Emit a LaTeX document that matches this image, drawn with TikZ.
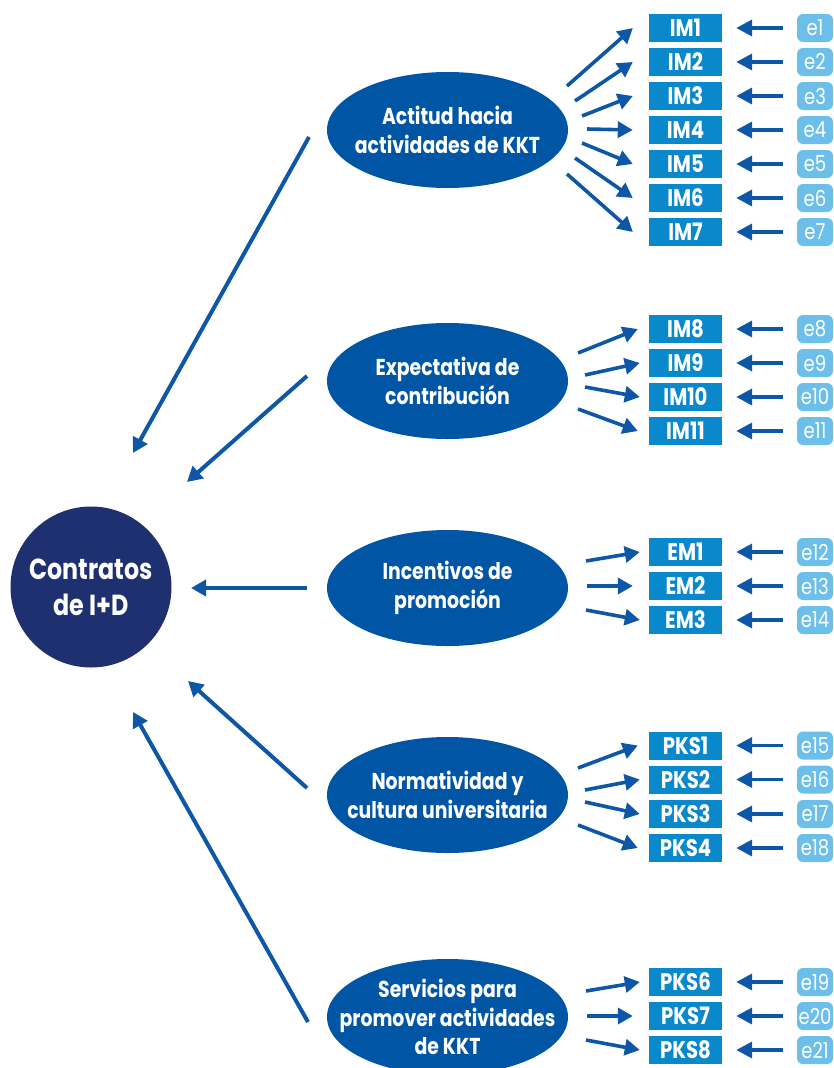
\documentclass[tikz,border=0pt]{standalone}
\usepackage{fontspec}
\setmainfont{Poppins}[FakeStretch=0.82]
\usetikzlibrary{arrows.meta,shapes.geometric}
\definecolor{navy}{HTML}{1E3070}
\definecolor{ellblue}{HTML}{0155A5}
\definecolor{boxblue}{HTML}{0A88CC}
\definecolor{errblue}{HTML}{6CBFEA}
\definecolor{arrblue}{HTML}{0D57A6}
\begin{document}
\begin{tikzpicture}[x=1pt,y=-1pt,
  ellshape/.style={ellipse, fill=ellblue, minimum width=241pt, minimum height=116pt, inner sep=0pt},
  elltext/.style={text=white, align=center, inner sep=0pt, font=\fontsize{23}{28.5}\selectfont\bfseries},
  mbox/.style={rectangle, fill=boxblue, minimum width=73pt, minimum height=28pt, inner sep=0pt, text=white, font=\fontsize{24}{24}\selectfont\bfseries},
  ebox/.style={rectangle, rounded corners=6pt, fill=errblue, minimum width=36pt, minimum height=28pt, inner sep=0pt, text=white, font=\fontsize{22}{22}\selectfont},
  bigarr/.style={draw=arrblue, line width=4pt, -{Triangle[length=15pt,width=16pt]}},
  grparr/.style={draw=arrblue, line width=3.6pt, -{Triangle[length=15pt,width=16pt]}},
  smallarr/.style={draw=arrblue, line width=3.6pt, -{Triangle[length=16pt,width=16pt]}}
]
\useasboundingbox (0,0) rectangle (833,1068);

% central circle
\node[circle, fill=navy, minimum size=161pt, inner sep=0pt] (C) at (91,587) {};
\node[text=white, align=center, inner sep=0pt, font=\fontsize{29}{36}\selectfont\bfseries] (Ct) at (C) {Contratos\\de I+D};

% ellipses
\node[ellshape] (E1) at (447.5,130) {};
\node[elltext] (E1t) at (E1) {Actitud hacia\\actividades de KKT};
\node[ellshape] (E2) at (447.5,381) {};
\node[elltext] (E2t) at (E2) {Expectativa de\\contribución};
\node[ellshape] (E3) at (447.5,588) {};
\node[elltext] (E3t) at (E3) {Incentivos de\\promoción};
\node[ellshape] (E4) at (447.5,795) {};
\node[elltext] (E4t) at (E4) {Normatividad y\\cultura universitaria};
\node[ellshape] (E5) at (447.5,1017) {};
\node[elltext] (E5t) at (E5) {Servicios para\\promover actividades\\de KKT};

% indicator boxes and errors
\foreach \n/\lab/\e/\y in {IM1/IM1/e1/28, IM2/IM2/e2/62, IM3/IM3/e3/96, IM4/IM4/e4/130, IM5/IM5/e5/164, IM6/IM6/e6/198, IM7/IM7/e7/232,
  IM8/IM8/e8/329, IM9/IM9/e9/363, IM10/IM10/e10/397, IM11/IM11/e11/431,
  EM1/EM1/e12/552, EM2/EM2/e13/586, EM3/EM3/e14/620,
  PKS1/PKS1/e15/745.5, PKS2/PKS2/e16/779.5, PKS3/PKS3/e17/814, PKS4/PKS4/e18/848,
  PKS6/PKS6/e19/982, PKS7/PKS7/e20/1016, PKS8/PKS8/e21/1050}{
  \node[mbox] (\n) at (685.5,\y) {\lab};
  \node[ebox] (\e) at (815,\y) {\e};
  \draw[smallarr] ([xshift=-14pt]\e.west) -- ([xshift=14pt]\n.east);
}

% ellipse 1 -> IM1..IM7
\foreach \b/\dx/\dy in {IM1/119.5/-44, IM2/127.5/-29, IM3/134.5/-14, IM4/139.5/-1, IM5/134.5/13, IM6/127.5/28, IM7/119.5/44}{
  \draw[grparr] ([shift={(\dx,\dy)}]E1.center) -- ([xshift=-16pt]\b.west);
}
% ellipse 2 -> IM8..IM11
\foreach \b/\dx/\dy/\t in {IM8/130.5/-28/-11, IM9/137.5/-6/-9, IM10/137.5/6/-9, IM11/130.5/28/-11}{
  \draw[grparr] ([shift={(\dx,\dy)}]E2.center) -- ([xshift=\t pt]\b.west);
}
% ellipse 3 -> EM1..EM3
\foreach \b/\dx/\dy/\t in {EM1/138.5/-27/-9, EM2/139.5/-2/-16, EM3/138.5/22/-9}{
  \draw[grparr] ([shift={(\dx,\dy)}]E3.center) -- ([xshift=\t pt]\b.west);
}
% ellipse 4 -> PKS1..PKS4
\foreach \b/\dx/\dy/\t in {PKS1/130.5/-27/-11, PKS2/137.5/-5/-9, PKS3/137.5/7/-9, PKS4/130.5/30/-11}{
  \draw[grparr] ([shift={(\dx,\dy)}]E4.center) -- ([xshift=\t pt]\b.west);
}
% ellipse 5 -> PKS6..PKS8
\foreach \b/\dx/\dy/\t in {PKS6/138.5/-26/-9, PKS7/139.5/-1/-16, PKS8/138.5/23/-9}{
  \draw[grparr] ([shift={(\dx,\dy)}]E5.center) -- ([xshift=\t pt]\b.west);
}

% ellipses -> central construct
\draw[bigarr] ([shift={(-138.5,7)}]E1.center) -- ([shift={(42,-134)}]C.center);
\draw[bigarr] ([shift={(-140.5,-5)}]E2.center) -- ([shift={(96,-105)}]C.center);
\draw[bigarr] ([shift={(-140.5,0)}]E3.center) -- ([shift={(100,1)}]C.center);
\draw[bigarr] ([shift={(-140.5,-7)}]E4.center) -- ([shift={(97,94)}]C.center);
\draw[bigarr] ([shift={(-139.5,5)}]E5.center) -- ([shift={(42,125)}]C.center);
\end{tikzpicture}
\end{document}
